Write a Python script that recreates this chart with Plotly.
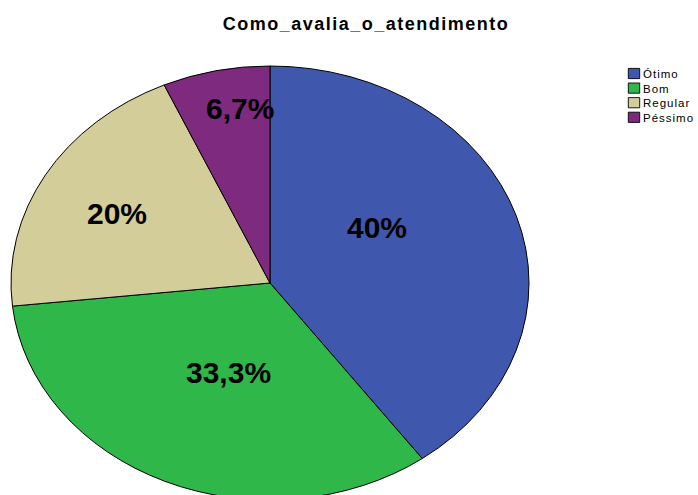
import plotly.graph_objects as go

# ---- data ----
categories = ["Ótimo", "Bom", "Regular", "Péssimo"]
percent_values = [40.0, 33.3, 20.0, 6.7]
slice_colors = ["#3F58AD", "#2FB849", "#D3CD9A", "#7E2A7E"]
title_text = "Como_avalia_o_atendimento"


def pct_label(v):
    s = f"{v:.1f}".replace(".", ",")
    if s.endswith(",0"):
        s = s[:-2]
    return s + "%"


W, H = 698, 495
DOM_X = [0.0, 0.78]

fig = go.Figure(
    go.Pie(
        labels=categories,
        values=percent_values,
        sort=False,
        direction="clockwise",
        rotation=0,
        marker=dict(colors=slice_colors, line=dict(color="black", width=1)),
        textinfo="none",
        hoverinfo="label+percent",
        domain=dict(x=DOM_X, y=[0, 1]),
    )
)

# label positions (pixels in the picture) -> paper coords
label_px = [(377, 227), (228, 372), (117, 213), (240, 109)]
for v, (px, py) in zip(percent_values, label_px):
    fig.add_annotation(
        x=px / W, y=1 - py / H, xref="paper", yref="paper",
        text=pct_label(v), showarrow=False,
        xanchor="center", yanchor="middle",
        font=dict(family="Arial, Liberation Sans, sans-serif", size=30, color="black", weight="bold"),
    )

fig.update_layout(
    width=W, height=H,
    margin=dict(l=0, r=0, t=0, b=0),
    paper_bgcolor="white",
    plot_bgcolor="white",
    title=dict(
        text=title_text, x=366 / W, y=1 - 24 / H, xanchor="center", yanchor="middle",
        xref="paper", yref="container",
        font=dict(family="Arial, Liberation Sans, sans-serif", size=18, color="black", weight="bold"),
    ),
    showlegend=True,
    legend=dict(
        x=603 / W, y=1 - 59 / H, xanchor="left", yanchor="top",
        font=dict(family="Arial, Liberation Sans, sans-serif", size=11.5, color="black"),
        bgcolor="rgba(0,0,0,0)", borderwidth=0, traceorder="normal",
    ),
)

post_js = """
document.body.style.margin = '0';
var gd = document.getElementById('{plot_id}');
var CX = 270, CY = 283, RX = 259, RY = 217;
var svg = gd.querySelector('.main-svg');
var surfaces = gd.querySelectorAll('.pielayer path.surface');
var minx = 1e9, miny = 1e9, maxx = -1e9, maxy = -1e9;
surfaces.forEach(function (p) {
  var b = p.getBBox();
  minx = Math.min(minx, b.x); miny = Math.min(miny, b.y);
  maxx = Math.max(maxx, b.x + b.width); maxy = Math.max(maxy, b.y + b.height);
});
var lcx = (minx + maxx) / 2, lcy = (miny + maxy) / 2, r = (maxx - minx) / 2;
surfaces.forEach(function (p) {
  var m = svg.getScreenCTM().inverse().multiply(p.parentNode.getScreenCTM());
  p.setAttribute('transform', 'translate(' + (CX - m.e) + ',' + (CY - m.f) + ') scale(' + (RX / r) + ',' + (RY / r) + ') translate(' + (-lcx) + ',' + (-lcy) + ')');
  p.style.setProperty('vector-effect', 'non-scaling-stroke');
});
var t = gd.querySelector('.gtitle');
if (t) { t.style.letterSpacing = '1.5px'; }
gd.querySelectorAll('.legend text.legendtext').forEach(function (tx) { tx.style.letterSpacing = '1px'; });
gd.querySelectorAll('.legend [clip-path]').forEach(function (e) { e.removeAttribute('clip-path'); });
var items = gd.querySelectorAll('.legend .traces');
var x0 = null, y0 = null;
items.forEach(function (it, i) {
  var tr = it.getAttribute('transform') || '';
  var mm = tr.match(/translate\\(([-\\d.]+)[ ,]+([-\\d.]+)\\)/);
  if (mm) {
    if (x0 === null) { x0 = parseFloat(mm[1]); y0 = parseFloat(mm[2]); }
    it.setAttribute('transform', 'translate(' + x0 + ',' + (y0 + i * 14.6) + ')');
  }
});
gd.querySelectorAll('.legend .legendpie').forEach(function (p) {
  p.setAttribute('transform', 'translate(31,0) scale(0.95,0.85)');
});
"""

fig.write_html("out.html", post_script=post_js, config={"displayModeBar": False})
